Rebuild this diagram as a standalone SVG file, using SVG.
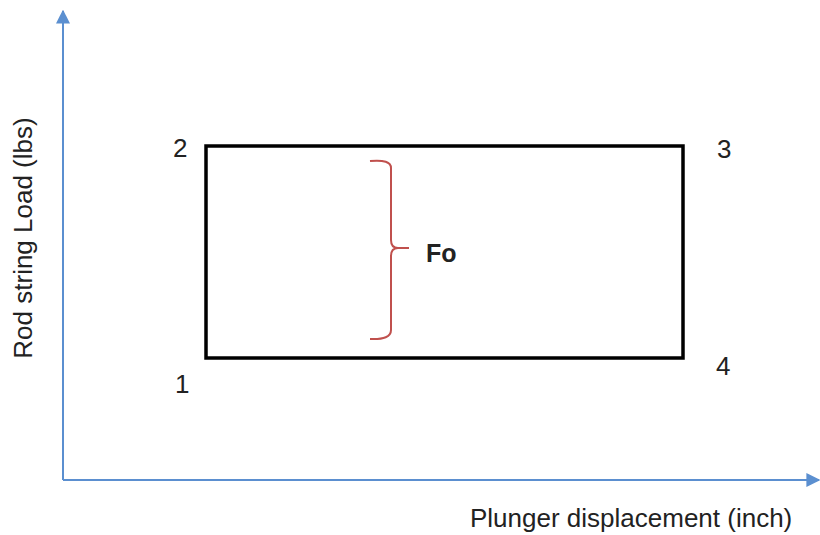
<svg xmlns="http://www.w3.org/2000/svg" width="820" height="535" viewBox="0 0 820 535">
<defs>
<style>
.axis{stroke:#5b8fd0;stroke-width:2;fill:none}
.lbl{font-family:"Liberation Sans",Arial,sans-serif;fill:#222}
.num{font-family:"Liberation Sans",Arial,sans-serif;font-size:26px;fill:#222}
</style>
<marker id="ah" viewBox="0 0 10 10" refX="9" refY="5" markerWidth="7" markerHeight="7" orient="auto" markerUnits="strokeWidth">
<path d="M0,0 L10,5 L0,10 z" fill="#5b8fd0"/>
</marker>
</defs>
<rect width="820" height="535" fill="#fff"/>
<g id="connectors">
<line class="axis" x1="63" y1="480" x2="63" y2="11" marker-end="url(#ah)"/>
<line class="axis" x1="63" y1="480" x2="819" y2="480" marker-end="url(#ah)"/>
</g>
<g id="cycle">
<rect x="206" y="146" width="477" height="212" fill="none" stroke="#000" stroke-width="3.5"/>
</g>
<g id="p1"><text class="num" x="175" y="393">1</text></g>
<g id="p2"><text class="num" x="173" y="157">2</text></g>
<g id="p3"><text class="num" x="717" y="158">3</text></g>
<g id="p4"><text class="num" x="716" y="375">4</text></g>
<g id="fo">
<path d="M370,161 Q391,159 391,168 L391,240 Q391,248 398,248 L409,248 M398,248 Q391,248 391,256 L391,330 Q391,340 370,339" fill="none" stroke="#c0504d" stroke-width="2"/>
<text class="lbl" x="426" y="262" font-size="25" font-weight="bold">Fo</text>
</g>
<g id="xlabel"><text class="lbl" x="470" y="527" font-size="26">Plunger displacement (inch)</text></g>
<g id="ylabel"><text class="lbl" transform="translate(32,238) rotate(-90)" text-anchor="middle" font-size="26">Rod string Load (lbs)</text></g>
</svg>
